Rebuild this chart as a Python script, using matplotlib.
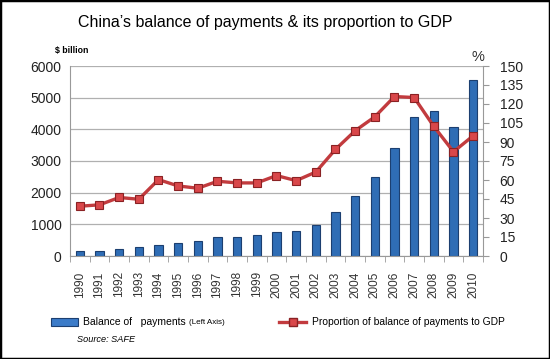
import matplotlib
matplotlib.use("Agg")
import matplotlib.pyplot as plt
from matplotlib.patches import Rectangle
from matplotlib.lines import Line2D
import numpy as np

plt.rcParams["font.family"] = ["Liberation Sans", "DejaVu Sans"]

# data
years = [str(y) for y in range(1990, 2011)]
balance = [157, 157, 231, 294, 336, 409, 472, 588, 609, 650, 766,
           787, 986, 1385, 1910, 2487, 3400, 4376, 4585, 4071, 5572]
proportion = [39.3, 40.4, 46.2, 44.8, 60.3, 55.3, 53.5, 59.0, 57.7, 57.7, 63.5,
              59.5, 66.3, 84.2, 98.9, 109.9, 125.9, 125.1, 102.3, 82.3, 94.9]
left_ticks = [0, 1000, 2000, 3000, 4000, 5000, 6000]
right_ticks = [0, 15, 30, 45, 60, 75, 90, 105, 120, 135, 150]

W, H = 550, 359
RED, RED_FACE, RED_EDGE = "#c23b3e", "#d9474a", "#8a2224"

fig = plt.figure(figsize=(W / 100, H / 100), dpi=100)
fig.patch.set_facecolor("white")
fig.patches.append(Rectangle((0, 0), 1, 1, transform=fig.transFigure,
                             fill=False, edgecolor="black", linewidth=2.5))

ax = fig.add_axes([70 / W, 1 - 256 / H, 413 / W, 190 / H])
x = np.arange(len(years))
ax.bar(x, balance, width=0.44, color="#2f6db5", edgecolor="#1c3f70",
       linewidth=0.8, zorder=2)
ax.set_xlim(-0.5, len(years) - 0.5)
ax.set_ylim(0, 6000)
ax.set_yticks(left_ticks)
ax.set_yticklabels([str(t) for t in left_ticks], fontsize=10, color="#222222")
ax.yaxis.grid(True, color="#b0b0b0", linewidth=0.9, zorder=0)
ax.set_axisbelow(True)
ax.set_xticks(x)
ax.set_xticklabels(years, rotation=90, fontsize=8.5, color="#333333")
ax.tick_params(axis="x", length=0, pad=11)
ax.set_xticks(np.arange(-0.5, len(years)), minor=True)
ax.tick_params(axis="x", which="minor", length=4, color="#999999")
ax.tick_params(axis="y", length=0, pad=6)
for s in ["top", "right"]:
    ax.spines[s].set_visible(False)
ax.spines["left"].set_color("#999999")
ax.spines["bottom"].set_color("#999999")

ax2 = ax.twinx()
ax2.plot(x, proportion, color=RED, linewidth=2.4, marker="s",
         markersize=6, markerfacecolor=RED_FACE, markeredgecolor=RED_EDGE,
         markeredgewidth=0.8, zorder=3)
ax2.set_ylim(0, 150)
ax2.set_yticks(right_ticks)
ax2.set_yticklabels([str(t) for t in right_ticks], fontsize=10, color="#222222")
ax2.tick_params(axis="y", length=4, color="#999999", pad=8)
for s in ["top", "left", "bottom"]:
    ax2.spines[s].set_visible(False)
ax2.spines["right"].set_color("#999999")

fig.text(0.482, 1 - 22 / H, "China\u2019s balance of payments & its proportion to GDP",
         ha="center", va="center", fontsize=11.5)
fig.text(55 / W, 1 - 50 / H, "$ billion", ha="left", va="center",
         fontsize=6.3, fontweight="bold")
fig.text(478 / W, 1 - 57 / H, "%", ha="center", va="center", fontsize=10.5,
         color="#333333")

# legend
fig.patches.append(Rectangle((51 / W, 1 - 326 / H), 27 / W, 8 / H,
                             transform=fig.transFigure, facecolor="#3b7bc8",
                             edgecolor="#1c3f70", linewidth=0.8))
fig.text(83 / W, 1 - 322 / H, "Balance of   payments", ha="left",
         va="center", fontsize=7.5)
fig.text(189 / W, 1 - 322 / H, "(Left Axis)", ha="left", va="center",
         fontsize=5.8)
fig.lines.append(Line2D([279 / W, 306 / W], [1 - 322 / H, 1 - 322 / H],
                        transform=fig.transFigure, color=RED, linewidth=2.4))
fig.lines.append(Line2D([292.5 / W], [1 - 322 / H], transform=fig.transFigure,
                        marker="s", markersize=6, linestyle="none",
                        markerfacecolor=RED_FACE, markeredgecolor=RED_EDGE))
fig.text(312 / W, 1 - 322 / H, "Proportion of balance of payments to GDP",
         ha="left", va="center", fontsize=7.4)
fig.text(77 / W, 1 - 340 / H, "Source: SAFE", ha="left", va="center",
         fontsize=6.6, style="italic")

fig.savefig("out.png", dpi=100)
